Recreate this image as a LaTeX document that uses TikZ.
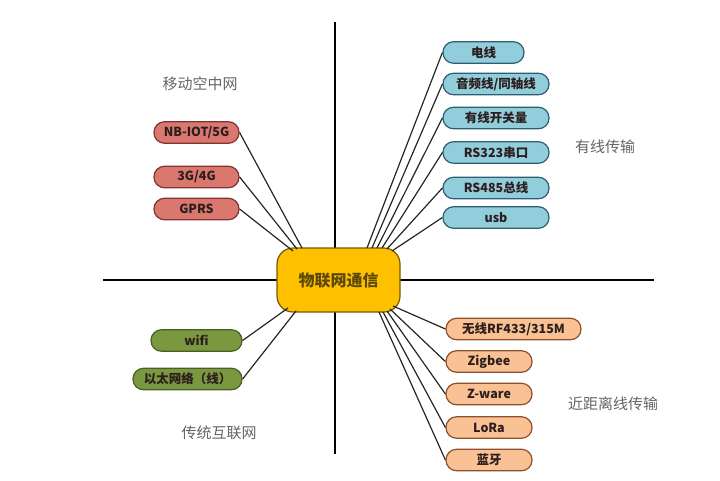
\documentclass[tikz,border=0pt]{standalone}
\usepackage{fontspec}
\setmainfont{Noto Sans CJK SC}
\usetikzlibrary{positioning}
\definecolor{redfill}{RGB}{218,120,112}
\definecolor{redline}{RGB}{130,50,48}
\definecolor{bluefill}{RGB}{146,205,220}
\definecolor{blueline}{RGB}{45,95,115}
\definecolor{greenfill}{RGB}{122,152,64}
\definecolor{greenline}{RGB}{75,95,35}
\definecolor{orangefill}{RGB}{250,194,148}
\definecolor{orangeline}{RGB}{140,80,45}
\definecolor{yellowfill}{RGB}{255,192,0}
\definecolor{yellowline}{RGB}{115,90,10}
\definecolor{labelgray}{RGB}{100,100,100}
\definecolor{nodetext}{RGB}{45,30,30}
\tikzset{
  leaf/.style={rounded corners=10.5pt, minimum height=21.5pt, inner sep=0pt,
    line width=1.2pt, font=\fontsize{12.5}{14}\selectfont\bfseries, text=nodetext},
  redleaf/.style={leaf, draw=redline, fill=redfill},
  blueleaf/.style={leaf, draw=blueline, fill=bluefill},
  greenleaf/.style={leaf, draw=greenline, fill=greenfill},
  orangeleaf/.style={leaf, draw=orangeline, fill=orangefill},
  hub/.style={rounded corners=16pt, minimum width=123pt, minimum height=64pt,
    draw=yellowline, fill=yellowfill, line width=1.2pt,
    font=\fontsize{16}{18}\selectfont\bfseries, text=yellowline!80!black},
  grouplabel/.style={font=\fontsize{15}{17}\selectfont, text=labelgray},
  axis/.style={line width=2.6pt, black},
  link/.style={line width=1.2pt, black!85}
}
\begin{document}
\begin{tikzpicture}[x=1pt,y=-1pt]
\useasboundingbox (0,0) rectangle (720,480);
% axes
\coordinate (axL) at (103,280);
\coordinate (axR) at (654,280);
\coordinate (axT) at (335,22);
\coordinate (axB) at (335,454);
\draw[axis] (axL) -- (axR);
\draw[axis] (axT) -- (axB);

% hub
\node[hub] (hub) at (338.5,280) {物联网通信};

% group labels
\node[grouplabel] (lblA) at (200,84) {移动空中网};
\node[grouplabel] (lblB) at (605,147) {有线传输};
\node[grouplabel] (lblC) at (219,433) {传统互联网};
\node[grouplabel] (lblD) at (613,404) {近距离线传输};

% red
\node[redleaf, minimum width=85pt] (r1) at (196.5,132.5) {NB-IOT/5G};
\node[redleaf, minimum width=85pt] (r2) at (196.5,177) {3G/4G};
\node[redleaf, minimum width=85pt] (r3) at (196.5,209) {GPRS};

% blue
\node[blueleaf, minimum width=81pt] (b1) at (483.5,52.5) {电线};
\node[blueleaf, minimum width=106pt] (b2) at (496,84) {音频线/同轴线};
\node[blueleaf, minimum width=106pt] (b3) at (496,118) {有线开关量};
\node[blueleaf, minimum width=106pt] (b4) at (496,152.5) {RS323串口};
\node[blueleaf, minimum width=106pt] (b5) at (496,188) {RS485总线};
\node[blueleaf, minimum width=106pt] (b6) at (496,217.5) {usb};

% green
\node[greenleaf, minimum width=91pt] (g1) at (196.5,340.5) {wifi};
\node[greenleaf, minimum width=109pt] (g2) at (187.5,379) {以太网络（线）};

% orange
\node[orangeleaf, minimum width=135pt] (o1) at (513.5,329) {无线RF433/315M};
\node[orangeleaf, minimum width=86pt] (o2) at (489,361.5) {Zigbee};
\node[orangeleaf, minimum width=86pt] (o3) at (489,394) {Z-ware};
\node[orangeleaf, minimum width=86pt] (o4) at (489,427.5) {LoRa};
\node[orangeleaf, minimum width=86pt] (o5) at (489,460) {蓝牙};

% hub attachment points
\coordinate (hr1) at (302,248);
\coordinate (hr2) at (297,249);
\coordinate (hr3) at (293,251);
\coordinate (hb1) at (367,248);
\coordinate (hb2) at (372,248);
\coordinate (hb3) at (377,248);
\coordinate (hb4) at (382,248);
\coordinate (hb5) at (387,249);
\coordinate (hb6) at (392,251);
\coordinate (hg1) at (288,308);
\coordinate (hg2) at (296,311);
\coordinate (ho1) at (393,306);
\coordinate (ho2) at (390,309);
\coordinate (ho3) at (387,311);
\coordinate (ho4) at (383,312);
\coordinate (ho5) at (379,312);

% links
\draw[link] (r1.east) -- (hr1);
\draw[link] (r2.east) -- (hr2);
\draw[link] (r3.east) -- (hr3);
\draw[link] (b1.west) -- (hb1);
\draw[link] (b2.west) -- (hb2);
\draw[link] (b3.west) -- (hb3);
\draw[link] (b4.west) -- (hb4);
\draw[link] (b5.west) -- (hb5);
\draw[link] (b6.west) -- (hb6);
\draw[link] (g1.east) -- (hg1);
\draw[link] (g2.east) -- (hg2);
\draw[link] (o1.west) -- (ho1);
\draw[link] (o2.west) -- (ho2);
\draw[link] (o3.west) -- (ho3);
\draw[link] (o4.west) -- (ho4);
\draw[link] (o5.west) -- (ho5);
\end{tikzpicture}
\end{document}
